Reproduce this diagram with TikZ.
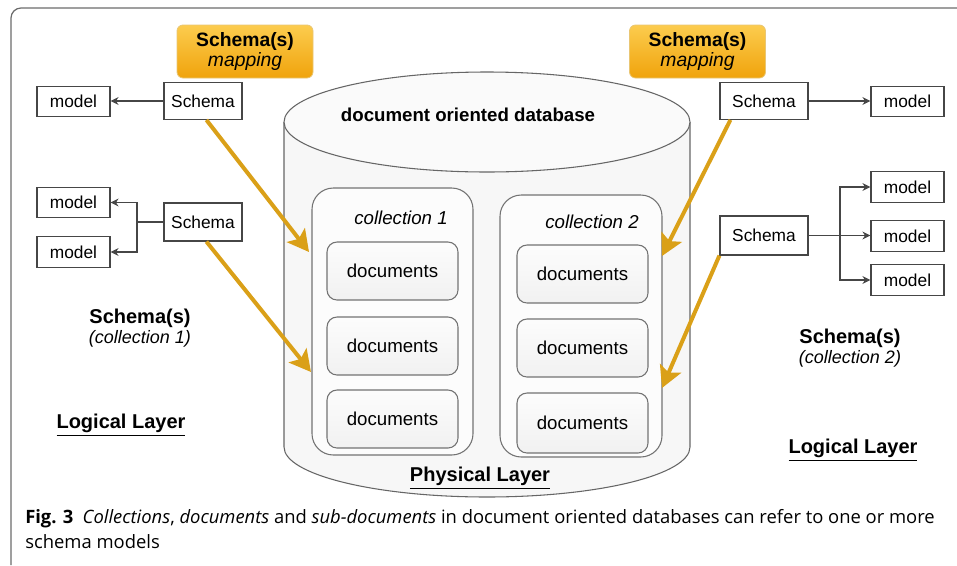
\documentclass[tikz,border=0pt]{standalone}
\usepackage{fontspec}
\setmainfont{Liberation Sans}
\newfontfamily\capfont{Open Sans}
\usetikzlibrary{arrows.meta,calc}
\definecolor{gold}{RGB}{218,160,24}
\definecolor{mapTop}{RGB}{252,204,78}
\definecolor{mapBot}{RGB}{240,163,12}
\definecolor{edge}{RGB}{70,70,70}
\begin{document}
\begin{tikzpicture}[x=0.75pt,y=-0.75pt,
  box/.style={draw=edge, line width=0.9pt, fill=white, inner sep=0pt,
    font=\fontsize{13}{15}\selectfont},
  modelbox/.style={box, minimum width=54.75pt, minimum height=23pt},
  schemabox/.style={box, minimum height=27.5pt},
  coll/.style={draw=black!55, line width=0.8pt, rounded corners=16pt, fill=gray!2, inner sep=0pt},
  docbox/.style={draw=black!55, line width=0.8pt, rounded corners=7.5pt,
    top color=gray!2, bottom color=gray!11, minimum width=98.25pt, inner sep=0pt,
    font=\fontsize{14}{16}\selectfont},
  mapbox/.style={draw=gold!60, line width=0.6pt, rounded corners=4.5pt,
    top color=mapTop, bottom color=mapBot, minimum width=102pt, minimum height=39.75pt,
    align=center, inner sep=0pt, font=\fontsize{14.5}{14.5}\selectfont},
  conn/.style={draw=edge, line width=0.8pt, -{Stealth[length=6pt,width=6pt]}},
  goldarrow/.style={draw=gold, line width=3pt, -{Stealth[length=16pt,width=17pt,inset=3.5pt]}},
  lbl/.style={inner sep=0pt, align=center},
  sidelbl/.style={lbl, font=\fontsize{13.5}{15.5}\selectfont}
]
\useasboundingbox (0,0) rectangle (957,565);

% frame around figure and caption
\draw[edge!80, line width=0.9pt] (11,565) -- (11,18) arc[start angle=180, end angle=90, radius=7.5pt] -- (957,8);

% database cylinder
\draw[black!60, line width=0.8pt, fill=gray!6]
  (284,122) -- (284,447) arc[start angle=180, end angle=360, x radius=152.25pt, y radius=37.5pt]
  -- (690,122);
\draw[black!60, line width=0.8pt, fill=gray!4] (487,122) ellipse [x radius=152.25pt, y radius=37.5pt];
\node[lbl, font=\bfseries\fontsize{14}{16}\selectfont] (dbtitle) at (468,115) {document oriented database};

% collections
\node[coll, minimum width=120.75pt, minimum height=200.25pt] (c1) at (392.5,321.5) {};
\node[coll, minimum width=121.5pt, minimum height=196.5pt] (c2) at (581,326) {};
\node[lbl, font=\itshape\fontsize{14}{16}\selectfont] (c1lbl) at (401,218) {collection 1};
\node[lbl, font=\itshape\fontsize{14}{16}\selectfont] (c2lbl) at (592,222) {collection 2};

% documents
\node[docbox, minimum height=43.5pt] (d11) at (392.5,271) {documents};
\node[docbox, minimum height=43.5pt] (d12) at (392.5,346) {documents};
\node[docbox, minimum height=43.5pt] (d13) at (392.5,419) {documents};
\node[docbox, minimum height=43.5pt] (d21) at (582.5,274) {documents};
\node[docbox, minimum height=43.5pt] (d22) at (582.5,348) {documents};
\node[docbox, minimum height=45pt]   (d23) at (582.5,423) {documents};

\node[lbl, font=\bfseries\fontsize{15}{17}\selectfont] (phys) at (480,478) {\underline{Physical Layer}};

% mapping boxes
\node[mapbox] (mapL) at (245,51.5) {\textbf{Schema(s)}\\\textit{mapping}};
\node[mapbox] (mapR) at (697.5,51.5) {\textbf{Schema(s)}\\\textit{mapping}};

% left schemas and models
\node[schemabox, minimum width=58.5pt] (sL1) at (203,101) {Schema};
\node[modelbox] (mL1) at (73.5,101.5) {model};
\node[schemabox, minimum width=58.5pt, minimum height=28.5pt] (sL2) at (203,222) {Schema};
\node[modelbox] (mL2a) at (73.5,202.5) {model};
\node[modelbox] (mL2b) at (73.5,252) {model};

\draw[conn] (sL1.west) -- (sL1.west -| mL1.east);
\coordinate (bL) at (137,222);
\draw[edge, line width=0.8pt] (sL2.west) -- (bL);
\draw[conn] (bL) |- (mL2a.east);
\draw[conn] (bL) |- (mL2b.east);

% right schemas and models
\node[schemabox, minimum width=66pt] (sR1) at (764,101) {Schema};
\node[modelbox] (mR1) at (907.5,101.5) {model};
\node[schemabox, minimum width=66pt, minimum height=29.25pt] (sR2) at (764,235.5) {Schema};
\node[modelbox] (mR2a) at (907.5,187) {model};
\node[modelbox] (mR2b) at (907.5,236) {model};
\node[modelbox] (mR2c) at (907.5,280) {model};

\draw[conn] (sR1.east) -- (sR1.east -| mR1.west);
\coordinate (bR) at (840,235.5);
\draw[conn] (sR2.east) -- (sR2.east -| mR2b.west);
\draw[conn] (bR) |- (mR2a.west);
\draw[conn] (bR) |- (mR2c.west);

% side labels
\node[sidelbl] (schL) at (140,328) {{\bfseries\fontsize{15}{17}\selectfont Schema(s)}\\{\itshape (collection 1)}};
\node[sidelbl] (schR) at (850,348) {{\bfseries\fontsize{15}{17}\selectfont Schema(s)}\\{\itshape (collection 2)}};
\node[lbl, font=\bfseries\fontsize{15}{17}\selectfont] (logL) at (121,425) {\underline{Logical Layer}};
\node[lbl, font=\bfseries\fontsize{15}{17}\selectfont] (logR) at (853,450) {\underline{Logical Layer}};

% schema-to-collection mappings
\coordinate (tL1) at (309,252);
\coordinate (tL2) at (311,372);
\coordinate (tR1) at (662,256);
\coordinate (tR2) at (662,388);
\draw[goldarrow] ([xshift=32.25pt]sL1.south west) -- (tL1);
\draw[goldarrow] ([xshift=32.25pt]sL2.south west) -- (tL2);
\draw[goldarrow] ([xshift=8.25pt]sR1.south west) -- (tR1);
\draw[goldarrow] (sR2.south west) -- (tR2);

% caption
\node[anchor=base west, inner sep=0pt, font=\capfont\fontsize{13.8}{16}\selectfont] (cap1) at (25,523)
  {\textbf{Fig. 3}\enspace\textit{Collections}, \textit{documents} and \textit{sub-documents} in document oriented databases can refer to one or more};
\node[anchor=base west, inner sep=0pt, font=\capfont\fontsize{13.8}{16}\selectfont] (cap2) at (25,548) {schema models};
\end{tikzpicture}
\end{document}
